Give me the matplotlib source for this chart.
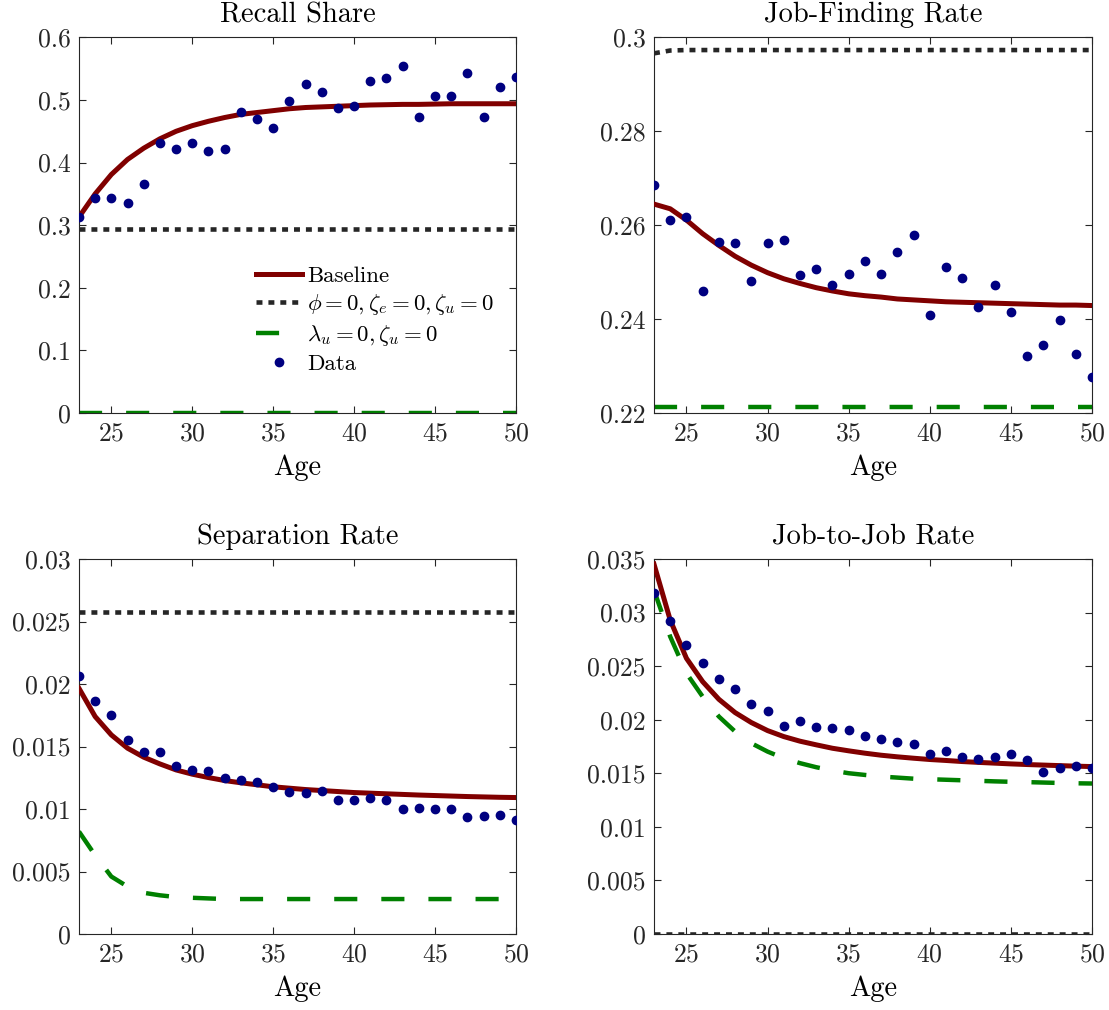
import numpy as np
import matplotlib
matplotlib.use('Agg')
import matplotlib.pyplot as plt
from matplotlib.ticker import FuncFormatter

matplotlib.rcParams['font.family'] = 'serif'
matplotlib.rcParams['font.serif'] = ['cmr10', 'DejaVu Serif']
matplotlib.rcParams['mathtext.fontset'] = 'cm'
matplotlib.rcParams['axes.unicode_minus'] = False
matplotlib.rcParams['axes.formatter.use_mathtext'] = True

ages = np.arange(23, 51)

# Recall share
recall_data = [0.313, 0.343, 0.344, 0.335, 0.366, 0.432, 0.422, 0.431, 0.419, 0.422,
               0.481, 0.469, 0.455, 0.498, 0.526, 0.513, 0.487, 0.491, 0.530, 0.535,
               0.554, 0.473, 0.506, 0.506, 0.543, 0.473, 0.521, 0.536]
recall_base = [0.313, 0.350, 0.381, 0.405, 0.423, 0.438, 0.450, 0.459, 0.466, 0.472,
               0.477, 0.480, 0.483, 0.486, 0.488, 0.489, 0.490, 0.491, 0.492, 0.4925,
               0.493, 0.493, 0.4935, 0.494, 0.494, 0.494, 0.494, 0.494]
recall_nophi = [0.294] * 28
recall_nolam = [0.0] * 28

# Job-finding rate
jf_data = [0.2685, 0.2612, 0.2618, 0.2461, 0.2565, 0.2562, 0.2482, 0.2563, 0.2569, 0.2495,
           0.2507, 0.2472, 0.2497, 0.2523, 0.2497, 0.2543, 0.2580, 0.2409, 0.2510, 0.2488,
           0.2425, 0.2472, 0.2415, 0.2321, 0.2346, 0.2398, 0.2326, 0.2276]
jf_base = [0.2645, 0.2635, 0.2611, 0.2582, 0.2557, 0.2534, 0.2515, 0.2499, 0.2486, 0.2476,
           0.2467, 0.2460, 0.2454, 0.2450, 0.2447, 0.2443, 0.2441, 0.2439, 0.2437, 0.2436,
           0.2435, 0.2434, 0.2433, 0.2432, 0.2431, 0.2430, 0.2430, 0.2429]
jf_nophi = [0.2966, 0.2972] + [0.2973] * 26
jf_nolam = [0.2212] * 28

# Separation rate
sep_data = [0.02065, 0.01868, 0.01753, 0.01556, 0.01457, 0.01457, 0.01343, 0.01314, 0.01303,
            0.01250, 0.01236, 0.01215, 0.01178, 0.01138, 0.01130, 0.01143, 0.01076, 0.01076,
            0.01092, 0.01074, 0.01002, 0.01010, 0.01004, 0.01004, 0.00940, 0.00946, 0.00951,
            0.00911]
sep_base = [0.01966, 0.01740, 0.01593, 0.01487, 0.01415, 0.01361, 0.01313, 0.01279, 0.01252,
            0.01228, 0.01210, 0.01194, 0.01178, 0.01167, 0.01156, 0.01148, 0.01140, 0.01132,
            0.01127, 0.01122, 0.01117, 0.01112, 0.01108, 0.01104, 0.01100, 0.01097, 0.01094,
            0.01092]
sep_nophi = [0.02574] * 28
sep_nolam = [0.0082, 0.0063, 0.0046, 0.0038, 0.0033, 0.0031, 0.00296, 0.0029, 0.00285,
             0.0028, 0.0028, 0.0028, 0.0028, 0.0028, 0.0028, 0.0028, 0.0028, 0.0028,
             0.0028, 0.0028, 0.0028, 0.0028, 0.0028, 0.0028, 0.0028, 0.0028, 0.0028, 0.0028]

# Job-to-job rate
j2j_data = [0.03183, 0.02922, 0.02695, 0.02533, 0.02384, 0.02291, 0.02151, 0.02083, 0.01943,
            0.01986, 0.01937, 0.01927, 0.01902, 0.01846, 0.01822, 0.01790, 0.01775, 0.01682,
            0.01713, 0.01654, 0.01638, 0.01654, 0.01682, 0.01623, 0.01511, 0.01554, 0.01570,
            0.01554]
j2j_base = [0.03453, 0.02931, 0.02574, 0.02356, 0.02191, 0.02067, 0.01974, 0.01899, 0.01843,
            0.01800, 0.01766, 0.01734, 0.01710, 0.01688, 0.01669, 0.01654, 0.01641, 0.01629,
            0.01620, 0.01610, 0.01602, 0.01595, 0.01588, 0.01582, 0.01577, 0.01572, 0.01567,
            0.01563]
j2j_nophi = [0.0] * 28
j2j_nolam = [0.0321, 0.02776, 0.02434, 0.02216, 0.0203, 0.0189, 0.01781, 0.01703, 0.01641,
             0.01595, 0.01557, 0.01526, 0.01501, 0.01485, 0.0147, 0.0146, 0.0145, 0.01445,
             0.0144, 0.01435, 0.0143, 0.01425, 0.01421, 0.01418, 0.01414, 0.0141, 0.01407,
             0.01405]

panels = [
    ('Recall Share', recall_base, recall_nophi, recall_nolam, recall_data,
     (0, 0.6), np.arange(0, 0.61, 0.1)),
    ('Job-Finding Rate', jf_base, jf_nophi, jf_nolam, jf_data,
     (0.22, 0.3), np.arange(0.22, 0.301, 0.02)),
    ('Separation Rate', sep_base, sep_nophi, sep_nolam, sep_data,
     (0, 0.03), np.arange(0, 0.0301, 0.005)),
    ('Job-to-Job Rate', j2j_base, j2j_nophi, j2j_nolam, j2j_data,
     (0, 0.035), np.arange(0, 0.0351, 0.005)),
]

positions = [
    [0.0712, 0.591, 0.394, 0.372],
    [0.5897, 0.591, 0.395, 0.372],
    [0.0712, 0.0752, 0.394, 0.3713],
    [0.5897, 0.0752, 0.395, 0.3713],
]

fs_tick = 18.5
fs_lab = 20.5
fig = plt.figure(figsize=(11.09, 10.10), dpi=100)

for i, (title, base, nophi, nolam, data, ylim, yt) in enumerate(panels):
    ax = fig.add_axes(positions[i])
    ax.plot(ages, base, color='#800000', lw=3.6, label='Baseline', zorder=3)
    ax.plot(ages, nophi, color='#262626', lw=3.3, linestyle=(0, (1.3, 1.3)),
            dash_capstyle='butt', label=r'$\phi=0,\zeta_e=0,\zeta_u=0$', zorder=2)
    ax.plot(ages, nolam, color='#008000', lw=3.2, linestyle=(0, (5.2, 5.4)),
            dash_capstyle='butt', label=r'$\lambda_u=0,\zeta_u=0$', zorder=2)
    ax.plot(ages, data, 'o', color='#000080', ms=6, label='Data', zorder=4)
    ax.set_xlim(23, 50)
    ax.set_ylim(*ylim)
    ax.set_xticks([25, 30, 35, 40, 45, 50])
    ax.set_yticks(yt)
    ax.yaxis.set_major_formatter(FuncFormatter(lambda v, p: '%g' % round(v, 4)))
    ax.tick_params(direction='in', top=True, right=True, labelsize=fs_tick,
                   length=5, width=0.8, pad=6, colors='#262626', labelcolor='#262626')
    for s in ax.spines.values():
        s.set_color('#262626')
        s.set_linewidth(0.8)
    ax.set_title(title, fontsize=fs_lab, color='black', pad=11)
    ax.set_xlabel('Age', fontsize=fs_lab, labelpad=7)
    if i == 0:
        ax.legend(loc='upper left', bbox_to_anchor=(0.385, 0.415), frameon=False,
                  fontsize=16.5, handlelength=2.0, handletextpad=0.2,
                  labelspacing=0.25, borderaxespad=0)

fig.savefig('out.png', dpi=100)
